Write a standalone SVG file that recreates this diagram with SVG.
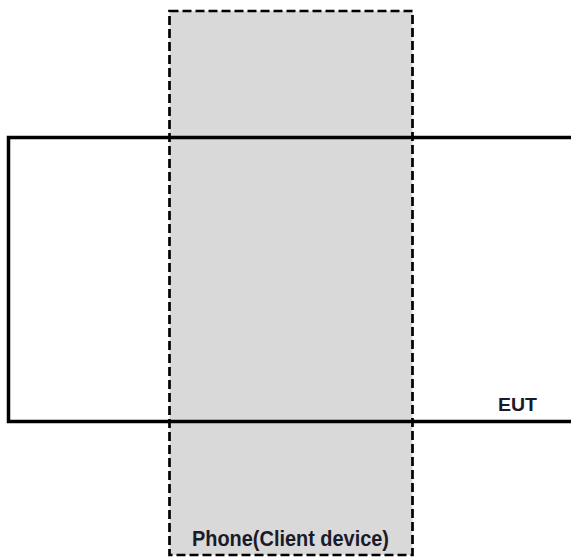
<svg xmlns="http://www.w3.org/2000/svg" width="571" height="559" viewBox="0 0 571 559">
<style>
.lbl{font-family:"Liberation Sans",Arial,sans-serif;font-weight:bold;fill:#1a1a2a;}
</style>
<rect width="571" height="559" fill="#fff"/>
<g id="phone">
<rect x="169.5" y="11" width="243" height="544" fill="#d9d9d9" stroke="none"/>
</g>
<g id="eut">
<path d="M575 137.5 H8.5 V421.5 H575" fill="none" stroke="#000" stroke-width="3.5"/>
<text class="lbl" x="498" y="411" font-size="19" textLength="39" lengthAdjust="spacingAndGlyphs">EUT</text>
</g>
<g id="phone-border">
<rect x="169.5" y="11" width="243" height="544" fill="none" stroke="#000" stroke-width="2.7" stroke-dasharray="9,4"/>
<text class="lbl" x="192" y="546" font-size="22" textLength="197" lengthAdjust="spacingAndGlyphs">Phone(Client device)</text>
</g>
</svg>
